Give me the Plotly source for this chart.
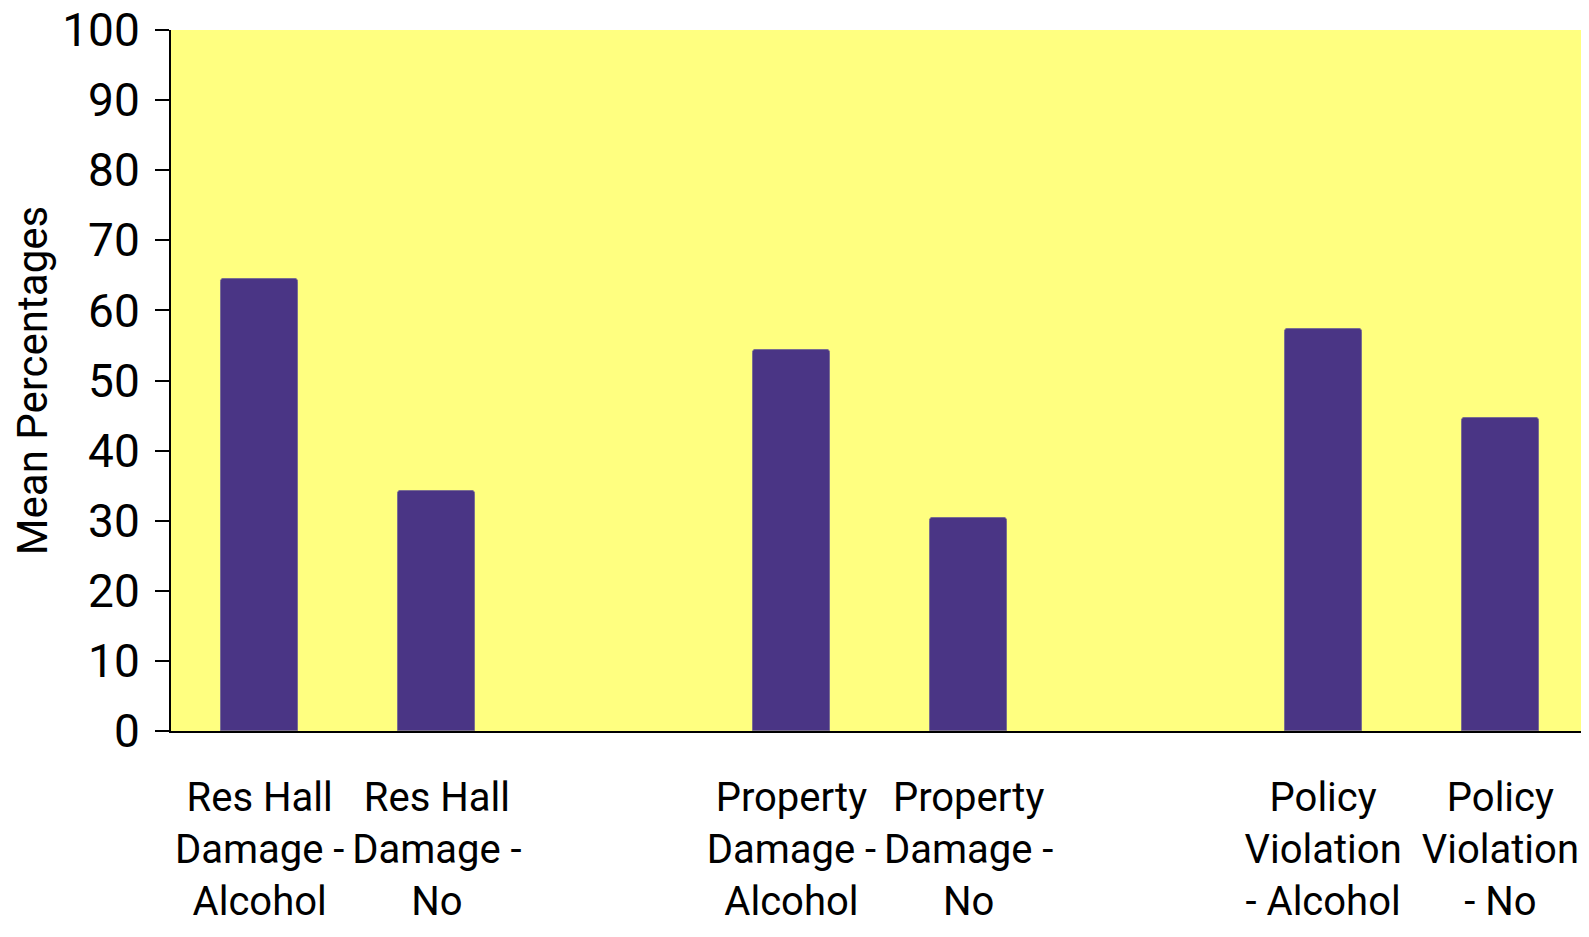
import plotly.graph_objects as go

categories = [
    "Res Hall<br>Damage -<br>Alcohol",
    "Res Hall<br>Damage -<br>No",
    "Property<br>Damage -<br>Alcohol",
    "Property<br>Damage -<br>No",
    "Policy<br>Violation<br>- Alcohol",
    "Policy<br>Violation<br>- No",
]
values = [64.5, 34.3, 54.3, 30.4, 57.3, 44.6]
y_ticks = [0, 10, 20, 30, 40, 50, 60, 70, 80, 90, 100]

# category order with spacer slots between groups
order = [categories[0], categories[1], " ", categories[2], categories[3], "  ", categories[4], categories[5]]

FONT = "Roboto, sans-serif"

fig = go.Figure(go.Bar(
    x=categories, y=values, width=0.435,
    marker=dict(color="#4A3585", line=dict(color="#7a6f8f", width=1), cornerradius=3),
))

fig.update_layout(
    width=1581, height=929,
    margin=dict(l=163, r=0, t=22, b=206),
    paper_bgcolor="white", plot_bgcolor="#FFFF80",
    font=dict(family=FONT, color="black"),
    showlegend=False,
    bargap=0,
)
fig.update_xaxes(
    type="category", categoryorder="array", categoryarray=order,
    range=[-0.5, 7.5], showline=True, linecolor="black", linewidth=2,
    ticks="", tickangle=0, tickfont=dict(size=40, family=FONT), showgrid=False,
    ticklabelstandoff=30, automargin=False, ticklabeloverflow="allow",
)
fig.update_yaxes(
    range=[0, 100], tickvals=y_ticks, showline=True, linecolor="black", linewidth=2,
    ticks="outside", ticklen=14, tickwidth=2, tickcolor="black",
    tickfont=dict(size=46, family=FONT), showgrid=False, zeroline=False,
    ticklabelstandoff=6, automargin=False, ticklabeloverflow="allow",
    title=dict(text="Mean Percentages", font=dict(size=42, family=FONT), standoff=8),
)

fig.write_html("out.html")
